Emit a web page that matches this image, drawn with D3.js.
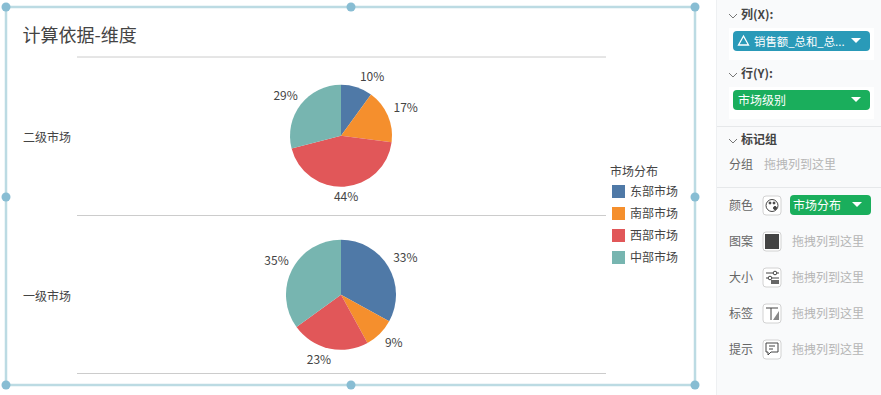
<!DOCTYPE html>
<html><head><meta charset="utf-8">
<script src="https://cdn.jsdelivr.net/npm/d3@7/dist/d3.min.js"></script>
<style>html,body{margin:0;padding:0;background:#fff;overflow:hidden}svg{display:block}text{font-family:"Noto Sans CJK SC","Noto Sans",sans-serif}</style>
</head><body><svg id="c" width="881" height="395"></svg>
<script>
const chartTitle = "计算依据-维度";
const legendTitle = "市场分布";
const regions = ["东部市场","南部市场","西部市场","中部市场"];
const rows = ["二级市场","一级市场"];
const rowTotals = [86,100];
const shareSecond = [10,17,44,29];
const shareFirst = [33,9,23,35];
const shares = [shareSecond, shareFirst];

const svg = d3.select("#c");
const color = d3.scaleOrdinal(regions, ["#4f79a7","#f58f2d","#e15759","#77b5b0"]);
const yBand = d3.scaleBand(rows,[57,374]);
const xCenter = d3.scalePoint(["c"],[341,341]);
const rScale = d3.scaleSqrt([0,100],[0,55]);
const pie = d3.pie().sort(null).value(d=>d);
const TXT="#444";

// frame
svg.append("rect").attr("x",6).attr("y",7).attr("width",689).attr("height",378).attr("fill","#fff").attr("stroke","#bcdbe3").attr("stroke-width",2.5);
// title
svg.append("text").attr("x",22.5).attr("y",42).attr("font-size",18).attr("fill",TXT).text(chartTitle);
// row rules
[57,215.5,373.5].forEach(y=>svg.append("line").attr("x1",77).attr("x2",606).attr("y1",y).attr("y2",y).attr("stroke","#ccc").attr("stroke-width",1));

const labelAdj = [
 [[11,3],[5,-2],[1,-4],[-4,0]],
 [[5,-2],[4,-1],[-7,-2],[-3,-2]]
];
rows.forEach((row,i)=>{
  const cy = yBand(row)+yBand.bandwidth()/2-(i?0:0.5);
  const r = rScale(rowTotals[i]);
  const g = svg.append("g").attr("transform",`translate(${xCenter("c")},${cy})`);
  const arcs = pie(shares[i]);
  g.selectAll("path").data(arcs).join("path")
   .attr("d",d3.arc().innerRadius(0).outerRadius(r))
   .attr("fill",(d,j)=>color(regions[j]));
  const lab = d3.arc().innerRadius(r+14).outerRadius(r+14);
  g.selectAll("text").data(arcs).join("text")
   .attr("x",(d,j)=>lab.centroid(d)[0]+labelAdj[i][j][0])
   .attr("y",(d,j)=>lab.centroid(d)[1]+labelAdj[i][j][1]+4)
   .attr("text-anchor","middle").attr("font-size",12).attr("fill",TXT)
   .text(d=>d.value+"%");
  svg.append("text").attr("x",23).attr("y",cy+6).attr("font-size",12).attr("fill",TXT).text(row);
});

// legend
svg.append("text").attr("x",610).attr("y",175.5).attr("font-size",12).attr("fill",TXT).text(legendTitle);
const leg = d3.scaleBand(regions,[183,271]);
regions.forEach(n=>{
  const y=leg(n);
  svg.append("rect").attr("x",612).attr("y",y+2).attr("width",13).attr("height",13).attr("fill",color(n));
  svg.append("text").attr("x",630).attr("y",y+12.5).attr("font-size",12).attr("fill",TXT).text(n);
});

// handles
[[6,7],[351,7],[695,7],[6,197],[695,197],[6,385],[351,385],[695,385]].forEach(p=>
  svg.append("circle").attr("cx",p[0]).attr("cy",p[1]).attr("r",4.5).attr("fill","#88bdd3"));

// side panel
const panel = svg.append("g");
panel.append("rect").attr("x",716).attr("y",0).attr("width",165).attr("height",395).attr("fill","#f9fafb");
panel.append("line").attr("x1",716.5).attr("x2",716.5).attr("y1",0).attr("y2",395).attr("stroke","#eef0f2");
panel.append("rect").attr("x",729).attr("y",28).attr("width",145).attr("height",32).attr("fill","#fff");
panel.append("rect").attr("x",729).attr("y",87).attr("width",145).attr("height",32).attr("fill","#fff");
[126,187].forEach(y=>panel.append("line").attr("x1",717).attr("x2",881).attr("y1",y+.5).attr("y2",y+.5).attr("stroke","#e6e8ea"));

function chev(x,y){panel.append("path").attr("d",`M${x},${y}l4,4l4,-4`).attr("fill","none").attr("stroke","#777").attr("stroke-width",1);}
function head(t,y){chev(729,y-5);panel.append("text").attr("x",741).attr("y",y).attr("font-size",12).attr("font-weight",700).attr("fill","#444").text(t);}
head("列(X):",19);head("行(Y):",78);head("标记组",144);

function pill(x,y,w,fill,t,tx,fs){
  panel.append("rect").attr("x",x).attr("y",y).attr("width",w).attr("height",20).attr("rx",4).attr("fill",fill);
  panel.append("text").attr("x",tx).attr("y",y+14.5).attr("font-size",fs).attr("fill","#fff").text(t);
  const ax=x+w-19;
  panel.append("path").attr("d",`M${ax},${y+7}h10l-5,5z`).attr("fill","#fff");
}
pill(733,31,137,"#2a9ab8","销售额_总和_总...",754,11.4);
panel.append("path").attr("d","M743.5,36l5,9h-10z").attr("fill","none").attr("stroke","#fff").attr("stroke-width",1.3);
pill(733,90,137,"#1aae5c","市场级别",738,12);
pill(790,195,81,"#1aae5c","市场分布",793,12);

const hint="拖拽列到这里";
panel.append("text").attr("x",729).attr("y",169).attr("font-size",12).attr("fill","#666").text("分组");
panel.append("text").attr("x",764).attr("y",169).attr("font-size",12).attr("fill","#b5b5b5").text(hint);
const encs=[["颜色",205],["图案",241],["大小",277],["标签",313],["提示",349]];
encs.forEach(([t,y],i)=>{
  panel.append("text").attr("x",729).attr("y",y+5).attr("font-size",12).attr("fill","#666").text(t);
  panel.append("rect").attr("x",763).attr("y",y-9).attr("width",18).attr("height",19).attr("rx",3).attr("fill","#fff").attr("stroke","#d2d2d2");
  if(i>0) panel.append("text").attr("x",792).attr("y",y+5).attr("font-size",12).attr("fill","#b5b5b5").text(hint);
});
const ic=panel.append("g").attr("fill","none").attr("stroke","#444").attr("stroke-width",1);
ic.append("circle").attr("cx",772).attr("cy",205.5).attr("r",6);
ic.append("circle").attr("cx",770).attr("cy",203).attr("r",1).attr("fill","#444");
ic.append("circle").attr("cx",774).attr("cy",203).attr("r",1).attr("fill","#444");
ic.append("circle").attr("cx",775).attr("cy",208).attr("r",1.5).attr("fill","#444");
panel.append("rect").attr("x",765).attr("y",234).attr("width",14).attr("height",15).attr("fill","#444");
ic.append("circle").attr("cx",775).attr("cy",273).attr("r",1.8);
ic.append("path").attr("d","M766,273h7M777,273h2M766,278h2M772,278h7");
ic.append("circle").attr("cx",770).attr("cy",278).attr("r",1.8);
panel.append("rect").attr("x",771).attr("y",280).attr("width",8).attr("height",4).attr("fill","#666");
ic.append("path").attr("d","M766,308h12M771,308v12");
panel.append("path").attr("d","M779,311v9h-6z").attr("fill","#888");
ic.append("path").attr("d","M766,343h12v9h-7l-3,3v-3h-2zM769,346h6M769,349h4");
</script></body></html>
